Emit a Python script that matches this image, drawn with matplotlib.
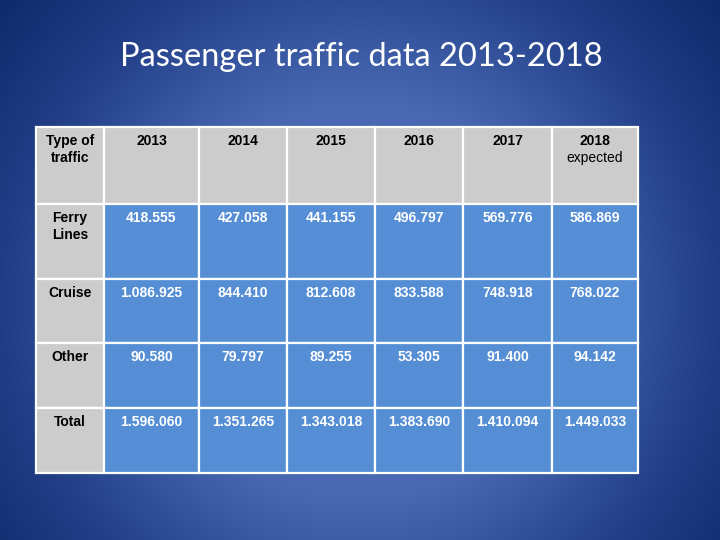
import numpy as np
import matplotlib
matplotlib.use('Agg')
import matplotlib.pyplot as plt
from matplotlib.patches import Rectangle

# ---- data ----
corner_label = 'Type of\ntraffic'
years = ['2013', '2014', '2015', '2016', '2017', '2018']
year_notes = ['', '', '', '', '', 'expected']
traffic_types = ['Ferry\nLines', 'Cruise', 'Other', 'Total']
ferry_lines = [418555, 427058, 441155, 496797, 569776, 586869]
cruise = [1086925, 844410, 812608, 833588, 748918, 768022]
other = [90580, 79797, 89255, 53305, 91400, 94142]
total = [1596060, 1351265, 1343018, 1383690, 1410094, 1449033]
rows = [ferry_lines, cruise, other, total]

title = 'Passenger traffic data 2013-2018'

# ---- layout (pixels) ----
W, H = 720, 540
col_edges = [36, 104, 199, 287, 375, 463, 552, 638]
row_edges = [127, 204, 279, 343, 408, 473]
GRAY = '#CCCCCC'
BLUE = '#558ED5'


def fmt(v):
    return f"{v:,}".replace(',', '.')


fig = plt.figure(figsize=(W / 100, H / 100), dpi=100)
ax = fig.add_axes([0, 0, 1, 1])
ax.set_xlim(0, W)
ax.set_ylim(H, 0)
ax.axis('off')

# radial gradient background
yy, xx = np.mgrid[0:H, 0:W]
d = np.hypot(xx - 360, yy - 300)
stops_d = [0, 200, 360, 470]
stops_c = np.array([[0x58, 0x78, 0xC0], [0x48, 0x69, 0xB2],
                    [0x1F, 0x3C, 0x85], [0x0F, 0x2A, 0x6B]]) / 255
bg = np.dstack([np.interp(d, stops_d, stops_c[:, k]) for k in range(3)])
ax.imshow(bg, extent=[0, W, H, 0], zorder=0)

ax.text(361, 57, title, ha='center', va='center', color='white',
        fontsize=23.5, family='Lato', zorder=3)

font = dict(family='Liberation Sans', fontsize=10, zorder=3)


def stacked(cx, by, label, color='black', weight='bold'):
    for i, line in enumerate(label.split('\n')):
        ax.text(cx, by + 17 * i, line, ha='center', va='baseline',
                color=color, fontweight=weight, **font)


# table cells
for r in range(len(row_edges) - 1):
    for c in range(len(col_edges) - 1):
        x0, x1 = col_edges[c], col_edges[c + 1]
        y0, y1 = row_edges[r], row_edges[r + 1]
        face = GRAY if (r == 0 or c == 0) else BLUE
        ax.add_patch(Rectangle((x0, y0), x1 - x0, y1 - y0, facecolor=face,
                               edgecolor='white', linewidth=1.6, zorder=2))
        cx = (x0 + x1) / 2
        by = y0 + 18
        if r == 0 and c == 0:
            stacked(cx, by, corner_label)
        elif r == 0:
            stacked(cx, by, years[c - 1])
            if year_notes[c - 1]:
                stacked(cx, by + 17, year_notes[c - 1], weight='normal')
        elif c == 0:
            stacked(cx, by, traffic_types[r - 1])
        else:
            stacked(cx, by, fmt(rows[r - 1][c - 1]), color='white')

fig.savefig('out.png', dpi=100)
